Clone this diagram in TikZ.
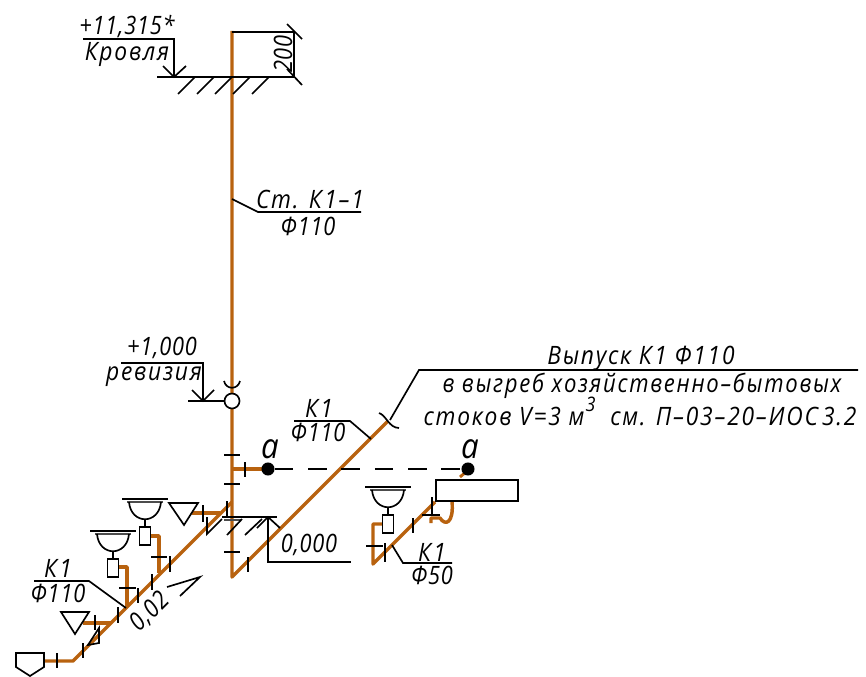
\documentclass[tikz,border=0pt]{standalone}
\usepackage{fontspec}
\newfontfamily\cadfont[LetterSpace=7,FakeStretch=0.9]{Open Sans}
\newfontfamily\cadnum[LetterSpace=3,FakeStretch=0.86]{Open Sans}
\definecolor{pipecol}{HTML}{B8620F}
\tikzset{
    pipe/.style={draw=pipecol, line width=2.6pt, line join=round},
    thin/.style={draw=black, line width=1.25pt},
    lab/.style={inner sep=0pt, font=\cadfont\itshape\fontsize{19}{19}\selectfont},
    numlab/.style={inner sep=0pt, font=\cadnum\itshape\fontsize{19}{19}\selectfont},
    biglab/.style={inner sep=0pt, font=\cadfont\itshape\fontsize{26}{26}\selectfont},
    dot/.style={circle, fill=black, inner sep=0pt, minimum size=9.8pt}
}
\newcommand{\washbasin}[2]{% x, y of the rim middle
    \draw[thin] (#1-23,#2) -- (#1+23,#2);
    \draw[draw=black!70, line width=1.25pt] (#1-18,#2+3) -- (#1+18,#2+3);
    \draw[thin] (#1-16,#2+3) .. controls (#1-14,#2+26) and (#1+14,#2+26) .. (#1+16,#2+3);
    \draw[thin] (#1,#2+20) -- (#1,#2+28);
    \draw[thin, fill=white] (#1-5.5,#2+28) rectangle (#1+5.5,#2+46);
}
\begin{document}
\begin{tikzpicture}[x=0.75pt, y=-0.75pt]
    \useasboundingbox (0,0) rectangle (866,677);

    % pipes
    \draw[pipe] (232,31) -- (232,577) -- (388,421);
    \draw[pipe] (45,661) -- (73,661) -- (232,502);
    \draw[pipe] (232,469) -- (268,469);
    \draw[pipe] (83,623) -- (111,623);
    \draw[pipe] (192,513) -- (220,513);
    \draw[pipe] (119,567) -- (127,567) -- (127,607);
    \draw[pipe] (150,536) -- (159,536) -- (159,573);
    \draw[pipe] (383,524) -- (373,524) -- (373,564) -- (435,502);
    \draw[pipe] (431,523) -- (431,518) -- (440,518) .. controls (445,526) and (454,524) .. (452,501);
    \draw[pipe, line width=2.2pt] (460,477) -- (467,471);

    % roof
    \draw[thin] (157,77) -- (294,77);
    \draw[thin] (83,39) -- (174,39) -- (174,77);
    \draw[thin] (163,66) -- (174,77) -- (186,66);
    \foreach \x in {178,197,215,233,252}
        \draw[thin] (\x,94) -- (\x+17,77);
    \draw[thin] (232,32) -- (294,32) -- (294,77);
    \draw[thin] (287,24) -- (302,39);
    \draw[thin] (287,69) -- (302,85);
    \node[numlab] (roofmark) at (127,26) {+11,315*};
    \node[lab] (roofname) at (127,54) {Кровля};
    \node[numlab, rotate=90] (roofdim) at (283,54) {200};

    % riser note
    \draw[thin] (232,199) -- (258,212) -- (361,212);
    \node[lab] (risername) at (310,200) {Ст. К\kern2pt 1–1};
    \node[numlab] (risersize) at (308,226) {Ф110};

    % cleanout
    \draw[thin] (121,363) -- (203,363) -- (203,401);
    \draw[thin] (188,401) -- (225,401);
    \draw[thin] (192,390) -- (203,401) -- (214,390);
    \draw[thin] (224,381) .. controls (226,390) and (238,390) .. (240,381);
    \draw[thin, fill=white] (232,401) circle [radius=7.5];
    \node[numlab] (cleanmark) at (162,348) {+1,000};
    \node[lab] (cleanname) at (154,377) {ревизия};

    % section line
    \node[dot] (secl) at (268,469) {};
    \node[dot] (secr) at (468,469) {};
    \draw[thin, dash pattern=on 14pt off 11pt] (secl) -- (secr);
    \node[biglab] (secla) at (270,449) {а};
    \node[biglab] (secra) at (470,449) {а};

    % outlet
    \draw[thin] (379,413) .. controls (386,415) and (389,428) .. (399,428);
    \draw[thin] (390,420) -- (419,370) -- (858,370);
    \draw[thin] (294,421) -- (350,421) -- (371,439);
    \node[lab] (outname) at (641,358) {Выпуск К\kern2pt 1 Ф110};
    \node[lab, xscale=0.97] (outtext) at (642,386) {в выгреб хозяйственно–бытовых};
    \node[lab] (outvol) at (640,411) {стоков V=3 м\kern1pt\raisebox{0.55em}{\fontsize{15}{15}\selectfont 3}\kern11pt см. П–03–20–ИОС\kern3pt 3.2};
    \node[lab] (outk) at (319,408) {К\kern2pt 1};
    \node[numlab] (outd) at (318,432) {Ф110};

    % ground level
    \draw[thin] (222,517) -- (277,517);
    \draw[draw=black!70, line width=1.25pt] (224,520) -- (241,520);
    \draw[thin] (227,535) -- (242,519);
    \draw[thin] (245,535) -- (262,519);
    \draw[thin] (257,528) -- (268,517) -- (280,528);
    \draw[thin] (268,517) -- (268,562) -- (351,562);
    \node[numlab] (groundmark) at (309,545) {0,000};

    % drain run
    \draw[thin] (16,653) -- (44,653) -- (44,667) -- (30,676) -- (16,667) -- cycle;
    \draw[thin] (61,612) -- (89,612) -- (75,634) -- cycle;
    \draw[thin] (169,503) -- (198,503) -- (184,525) -- cycle;
    \draw[thin] (99,628) -- (99,643) -- (88,645) -- cycle;
    \draw[thin] (207,517) -- (207,534) -- (222,519);
    \washbasin{113}{531}
    \washbasin{145}{499}
    \draw[thin] (34,581) -- (89,581) -- (126,608);
    \node[lab] (runk) at (58,568) {К\kern2pt 1};
    \node[numlab] (rund) at (58,593) {Ф110};
    \draw[thin] (167,587) -- (200,577) -- (180,596);
    \node[numlab, rotate=45] (runslope) at (150,612) {0,02};

    % right branch
    \washbasin{388}{487}
    \draw[thin, fill=white] (436,480) rectangle (518,501);
    \draw[thin] (392,545) -- (403,563) -- (452,563);
    \node[lab] (branchk) at (432,552) {К\kern2pt 1};
    \node[numlab] (branchd) at (432,575) {Ф50};

    % pipe ticks
    \foreach \y in {455,484,552}
        \draw[thin] (224,\y) -- (240,\y);
    \foreach \x/\ya/\yb in {245/462/477,248/557/572,57/653/668,83/643/658,95/615/630,118/607/623,138/588/603,152/574/590,170/556/572,203/505/522,227/501/517,385/543/562,413/518/533,432/497/515}
        \draw[thin] (\x,\ya) -- (\x,\yb);
    \draw[thin] (119,588) -- (136,588);
    \draw[thin] (151,557) -- (167,557);
    \draw[thin] (366,546) -- (383,546);
    \draw[thin] (422,515) -- (440,515);
\end{tikzpicture}
\end{document}
